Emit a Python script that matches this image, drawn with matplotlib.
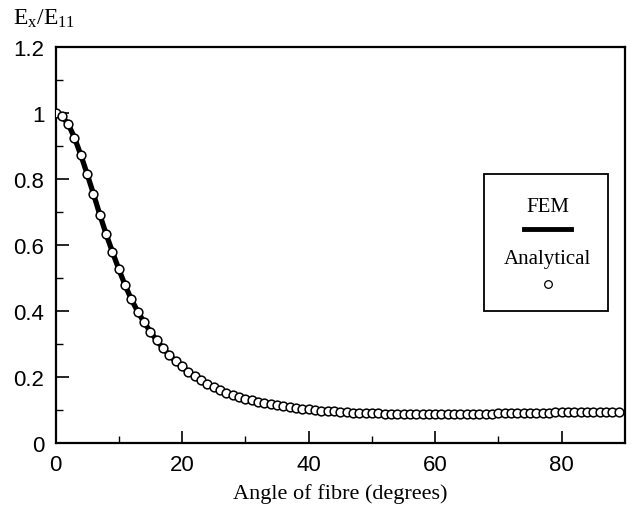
import numpy as np
import matplotlib.pyplot as plt
from matplotlib.patches import Rectangle
from matplotlib.lines import Line2D

# Data
angle = list(range(0, 90))
analytical = [1.000, 0.990, 0.967, 0.925, 0.873, 0.815, 0.755, 0.692, 0.633, 0.579,
              0.527, 0.478, 0.435, 0.398, 0.366, 0.337, 0.311, 0.287, 0.266, 0.248,
              0.232, 0.216, 0.202, 0.190, 0.180, 0.170, 0.161, 0.153, 0.146, 0.140,
              0.134, 0.129, 0.125, 0.121, 0.117, 0.114, 0.111, 0.108, 0.106, 0.104,
              0.102, 0.100, 0.098, 0.097, 0.096, 0.094, 0.093, 0.092, 0.091, 0.091,
              0.090, 0.090, 0.089, 0.089, 0.088, 0.088, 0.088, 0.088, 0.088, 0.088,
              0.088, 0.088, 0.088, 0.088, 0.088, 0.088, 0.089, 0.089, 0.089, 0.089,
              0.090, 0.090, 0.090, 0.091, 0.091, 0.091, 0.092, 0.092, 0.092, 0.093,
              0.093, 0.093, 0.094, 0.094, 0.094, 0.094, 0.095, 0.095, 0.095, 0.095]
fem = [1.000, 0.990, 0.967, 0.925, 0.873, 0.815, 0.755, 0.692, 0.633, 0.579,
       0.527, 0.478, 0.435, 0.398, 0.366, 0.337, 0.311, 0.287, 0.266, 0.248,
       0.231, 0.215, 0.201, 0.189, 0.178, 0.168, 0.159, 0.151, 0.144, 0.137,
       0.131, 0.126, 0.122, 0.118, 0.114, 0.111, 0.108, 0.105, 0.103, 0.101,
       0.099, 0.097, 0.095, 0.094, 0.093, 0.091, 0.090, 0.089, 0.088, 0.088,
       0.087, 0.087, 0.086, 0.086, 0.085, 0.085, 0.085, 0.085, 0.085, 0.085,
       0.085, 0.085, 0.085, 0.085, 0.085, 0.085, 0.086, 0.086, 0.086, 0.086,
       0.087, 0.087, 0.087, 0.088, 0.088, 0.088, 0.089, 0.089, 0.089, 0.090,
       0.090, 0.090, 0.091, 0.091, 0.091, 0.091, 0.092, 0.092, 0.092, 0.092]

plt.rcParams['mathtext.fontset'] = 'custom'
plt.rcParams['mathtext.rm'] = 'Liberation Serif'
plt.rcParams['mathtext.it'] = 'Liberation Serif'

fig = plt.figure(figsize=(6.34, 5.10), dpi=100)
ax = fig.add_axes([55.5/634, 1-444/510, 569.5/634, 396/510])

# FEM line and analytical points
ax.plot(angle, fem, color='black', lw=3.8, solid_capstyle='round', zorder=2)
ax.plot(angle, analytical, ls='none', marker='o', ms=6.3, mfc='white',
        mec='black', mew=1.1, zorder=3)

ax.set_xlim(0, 90)
ax.set_ylim(0, 1.2)
ax.set_xticks([0, 20, 40, 60, 80])
ax.set_xticks(np.arange(10, 90, 20), minor=True)
ax.set_yticks([0, 0.2, 0.4, 0.6, 0.8, 1, 1.2])
ax.set_yticks(np.arange(0.1, 1.2, 0.2), minor=True)
ax.set_yticklabels(['0', '0.2', '0.4', '0.6', '0.8', '1', '1.2'])
ax.tick_params(which='major', direction='in', length=9, width=1.2,
               labelsize=16, pad=8, top=False, right=False)
ax.tick_params(which='minor', direction='in', length=5, width=1.0,
               top=False, right=False)
for lab in ax.get_xticklabels() + ax.get_yticklabels():
    lab.set_fontfamily('Liberation Sans')
for s in ax.spines.values():
    s.set_linewidth(1.6)

ax.set_xlabel('Angle of fibre (degrees)', fontfamily='Liberation Serif',
              fontsize=16, labelpad=6)
fig.text(13/634, 1-6/510, r'$\mathrm{E_x/E_{11}}$', fontsize=17,
         ha='left', va='top')

# Legend drawn by hand: text above each handle
ax.add_patch(Rectangle((0.752, 0.333), 0.218, 0.346, transform=ax.transAxes,
                       fill=False, lw=1.3, ec='black', zorder=4))
ax.text(0.864, 0.598, 'FEM', transform=ax.transAxes, ha='center', va='center',
        fontfamily='Liberation Serif', fontsize=15)
ax.add_line(Line2D([0.822, 0.905], [0.540, 0.540], transform=ax.transAxes,
                   color='black', lw=3.5))
ax.text(0.864, 0.465, 'Analytical', transform=ax.transAxes, ha='center',
        va='center', fontfamily='Liberation Serif', fontsize=15)
ax.add_line(Line2D([0.864], [0.401], transform=ax.transAxes, ls='none',
                   marker='o', ms=5.5, mfc='white', mec='black', mew=0.9))

fig.savefig('out.png', dpi=100)
